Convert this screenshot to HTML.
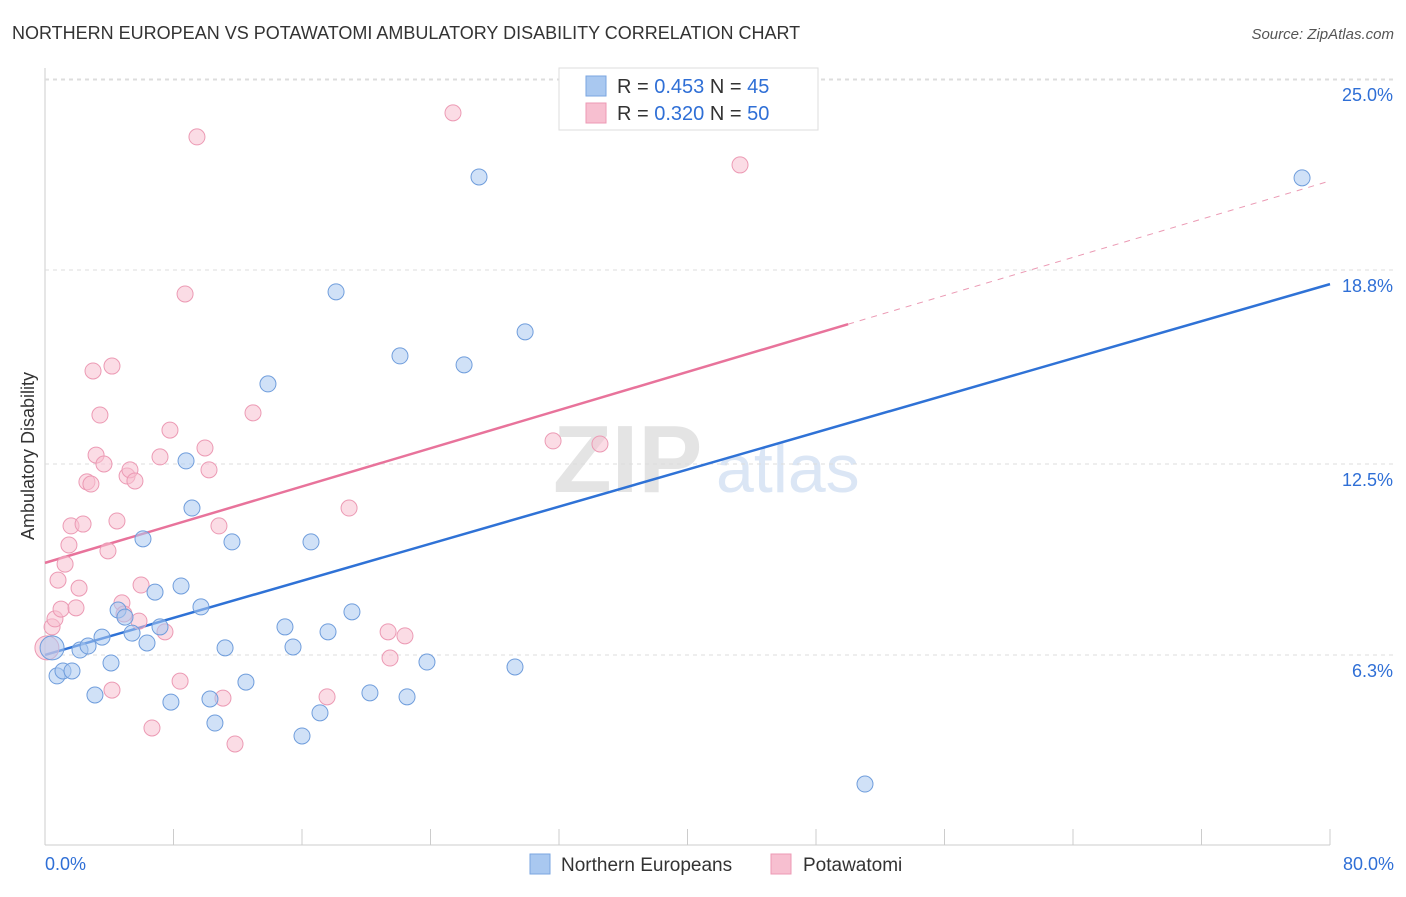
<!DOCTYPE html>
<html><head><meta charset="utf-8"><style>
body{margin:0;background:#fff;font-family:"Liberation Sans",sans-serif;}
svg text{font-family:"Liberation Sans",sans-serif;}
</style></head><body>
<svg id="c" width="1406" height="892">
<text x="12" y="39" font-size="18" fill="#333">NORTHERN EUROPEAN VS POTAWATOMI AMBULATORY DISABILITY CORRELATION CHART</text>
<text x="1394" y="39" font-size="15" fill="#555" text-anchor="end" font-style="italic">Source: ZipAtlas.com</text>
<text x="34" y="456" font-size="18" fill="#333" text-anchor="middle" transform="rotate(-90 34 456)">Ambulatory Disability</text>
<g><text x="553" y="492" font-size="96" fill="#e4e4e4" font-weight="bold" font-family="Liberation Serif">ZIP</text><text x="716" y="492" font-size="68" fill="#dbe6f5">atlas</text></g>
<g id="grid"></g><g id="lines"></g><g id="pts"></g>
<g>
<rect x="559" y="68" width="259" height="62" fill="#fff" stroke="#ddd"/>
<rect x="586" y="76" width="20" height="20" fill="#a9c8f0" stroke="#7aa6e0"/>
<rect x="586" y="103" width="20" height="20" fill="#f7bfd0" stroke="#ec9ab4"/>
<text x="617" y="93" font-size="20" fill="#333">R = <tspan fill="#2f6fd6">0.453</tspan>   N = <tspan fill="#2f6fd6">45</tspan></text>
<text x="617" y="120" font-size="20" fill="#333">R = <tspan fill="#2f6fd6">0.320</tspan>   N = <tspan fill="#2f6fd6">50</tspan></text>
</g>
<g>
<rect x="530" y="854" width="20" height="20" fill="#a9c8f0" stroke="#7aa6e0"/>
<text x="561" y="871" font-size="19" fill="#333">Northern Europeans</text>
<rect x="771" y="854" width="20" height="20" fill="#f7bfd0" stroke="#ec9ab4"/>
<text x="803" y="871" font-size="19" fill="#333">Potawatomi</text>
</g>
</svg>
<script>
const yTicks=[6.3,12.5,18.8,25.0];
const yTickLabels=["6.3%","12.5%","18.8%","25.0%"];
const xTicks=[0,8,16,24,32,40,48,56,64,72,80];
const blueX=[0.44,0.75,1.12,1.68,2.18,2.68,3.11,3.55,4.11,4.55,4.98,5.42,6.10,6.35,6.85,7.16,7.84,8.47,8.78,9.15,9.71,10.27,10.58,11.21,11.64,12.51,13.88,14.94,15.44,16.00,16.56,17.12,17.62,18.12,19.11,20.23,22.10,22.54,23.78,26.09,27.02,29.26,29.89,51.05,78.26];
const blueY=[6.53,5.62,5.78,5.78,6.46,6.59,5.00,6.88,6.04,7.76,7.53,7.01,10.07,6.69,8.34,7.21,4.77,8.54,12.60,11.07,7.86,4.87,4.09,6.53,9.97,5.42,15.10,7.21,6.56,3.67,9.97,4.42,7.05,18.09,7.70,5.07,16.01,4.94,6.07,15.72,21.82,5.91,16.79,2.11,21.79];
const pinkX=[0.12,0.44,0.62,0.81,1.00,1.25,1.49,1.62,1.93,2.12,2.37,2.61,2.86,3.18,3.42,3.67,3.92,4.17,4.17,4.48,2.99,4.79,4.92,5.11,5.29,5.60,5.85,5.98,6.66,7.47,7.78,8.41,8.72,9.46,9.96,10.21,10.83,11.08,11.83,12.95,17.56,18.93,21.36,21.48,22.41,25.40,31.63,34.55,43.27,7.16];
const pinkY=[6.53,7.21,7.47,8.73,7.79,9.25,9.87,10.49,7.83,8.47,10.55,11.92,11.85,12.79,14.09,12.50,9.68,5.16,15.68,10.65,15.52,7.99,7.63,12.11,12.31,11.95,7.40,8.57,3.93,7.05,13.60,5.45,18.02,23.12,13.02,12.31,10.49,4.90,3.41,14.16,4.94,11.07,7.05,6.20,6.92,23.90,13.25,13.15,22.21,12.73];
const blueLine=[6.30,18.34];
const pinkLine=[9.29,21.69];
const pinkSolidEnd=50;
const NS="http://www.w3.org/2000/svg";
const X=v=>45+v/80*1285, Y=v=>849-v*30.8;
function mk(t,a,p){const e=document.createElementNS(NS,t);for(const k in a)e.setAttribute(k,a[k]);p.appendChild(e);return e;}
const g=document.getElementById('grid');
mk('line',{x1:45,y1:68,x2:45,y2:845,stroke:'#ccc'},g);
mk('line',{x1:45,y1:845,x2:1330,y2:845,stroke:'#ccc'},g);
mk('line',{x1:45,y1:Y(25.0)+1,x2:1395,y2:Y(25.0)+1,stroke:'#ddd','stroke-dasharray':'4 4'},g);
yTicks.forEach((t,i)=>{
 const l=mk('line',{x1:45,y1:Y(t),x2:1395,y2:Y(t),stroke:'#ddd','stroke-dasharray':'4 4'},g);
 
 
 const tx=mk('text',{x:1393,y:Y(t)+22,'font-size':18,fill:'#2f6fd6','text-anchor':'end'},g);
 tx.textContent=yTickLabels[i];
 
 
});
xTicks.forEach(t=>{
 const l=mk('line',{x1:X(t),y1:829,x2:X(t),y2:845,stroke:'#ccc'},g);
 
 
});
let t0=mk('text',{x:45,y:870,'font-size':18,fill:'#2f6fd6'},g);t0.textContent='0.0%';


let t1=mk('text',{x:1394,y:870,'font-size':18,fill:'#2f6fd6','text-anchor':'end'},g);t1.textContent='80.0%';


const L=document.getElementById('lines');
const pAt=x=>pinkLine[0]+(pinkLine[1]-pinkLine[0])*x/80;
let d1=mk('line',{x1:X(pinkSolidEnd),y1:Y(pAt(pinkSolidEnd)),x2:X(80),y2:Y(pinkLine[1]),stroke:'#eb9ab4','stroke-dasharray':'6 6'},L);


let p1=mk('line',{x1:X(0),y1:Y(pinkLine[0]),x2:X(pinkSolidEnd),y2:Y(pAt(pinkSolidEnd)),stroke:'#e8739b','stroke-width':2.5},L);


let b1=mk('line',{x1:X(0),y1:Y(blueLine[0]),x2:X(80),y2:Y(blueLine[1]),stroke:'#2f72d6','stroke-width':2.5},L);


const P=document.getElementById('pts');
pinkX.forEach((x,i)=>{
 const c=mk('circle',{cx:X(x),cy:Y(pinkY[i]),r:i==0?12:8,fill:'#f7bfd0','fill-opacity':0.55,stroke:'#ec9ab4','stroke-width':1},P);
 
 
});
blueX.forEach((x,i)=>{
 const c=mk('circle',{cx:X(x),cy:Y(blueY[i]),r:i==0?12:8,fill:'#a9c8f0','fill-opacity':0.55,stroke:'#6f9ddc','stroke-width':1},P);
 
 
});
</script>
</body></html>
